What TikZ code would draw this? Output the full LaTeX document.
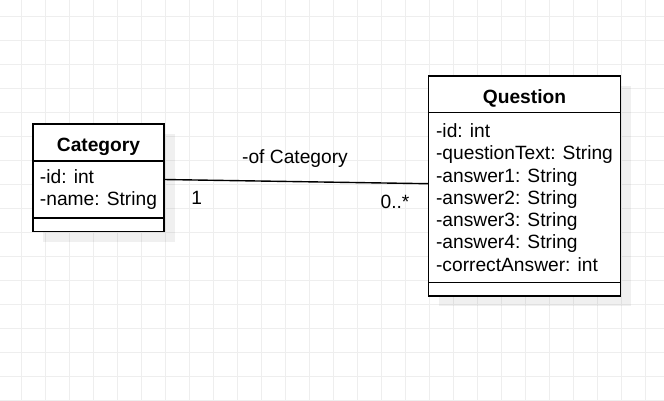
\documentclass[tikz,border=0pt]{standalone}
\usepackage{fontspec}
\setmainfont{Liberation Sans}
\usetikzlibrary{positioning}

\begin{document}
\begin{tikzpicture}[x=1pt, y=-1pt,
  every node/.style={font=\fontsize{19.2}{22.3}\selectfont, inner sep=0pt, outer sep=0pt},
  classbox/.style={draw=black, line width=1.4pt, fill=white, anchor=north west, minimum width=#1, align=left},
  classhead/.style={classbox=#1, font=\fontsize{19.2}{22.3}\selectfont\bfseries, text height=17.5pt, text depth=0pt},
  shade/.style={fill=black, opacity=0.06},
  lbl/.style={font=\fontsize{19.2}{22.3}\selectfont}]
\useasboundingbox (0,0) rectangle (664,400);
% grid
\fill[white] (0,0) rectangle (664,400);
\foreach \gx in {0,...,27} \draw[line width=0.8pt, gray!13] (21.7+24*\gx,0) -- (21.7+24*\gx,400);
\foreach \gy in {0,...,16} \draw[line width=0.8pt, gray!13] (0,16+24*\gy) -- (664,16+24*\gy);
% shadows
\fill[shade] (43,134) rectangle (175,242);
\fill[shade] (439,86) rectangle (631,306);
% Category
\node[classhead=131pt, minimum height=37pt] (cath) at (33,124) {Category};
\node[classbox=131pt, minimum height=57pt] (cata) at (cath.south west) {-id: int\\-name: String};
\node[classbox=131pt, minimum height=13.5pt] (cato) at (cata.south west) {};
% Question
\node[classhead=192pt, minimum height=36.5pt] (qh) at (428.5,76) {Question};
\node[classbox=192pt, minimum height=170pt] (qa) at (qh.south west) {-id: int\\-questionText: String\\-answer1: String\\-answer2: String\\-answer3: String\\-answer4: String\\-correctAnswer: int};
\node[classbox=192pt, minimum height=13.5pt] (qo) at (qa.south west) {};
% association
\coordinate (a1) at ([yshift=10pt]cata.east);
\coordinate (a2) at ([yshift=13.8pt]qa.west);
\draw[line width=1.4pt] (a1) -- (a2);
\node[lbl] (role) at (295,159) {-of Category};
\node[lbl] (m1) at (196.7,198) {1};
\node[lbl] (m2) at (395,201.5) {0..*};
\end{tikzpicture}
\end{document}
